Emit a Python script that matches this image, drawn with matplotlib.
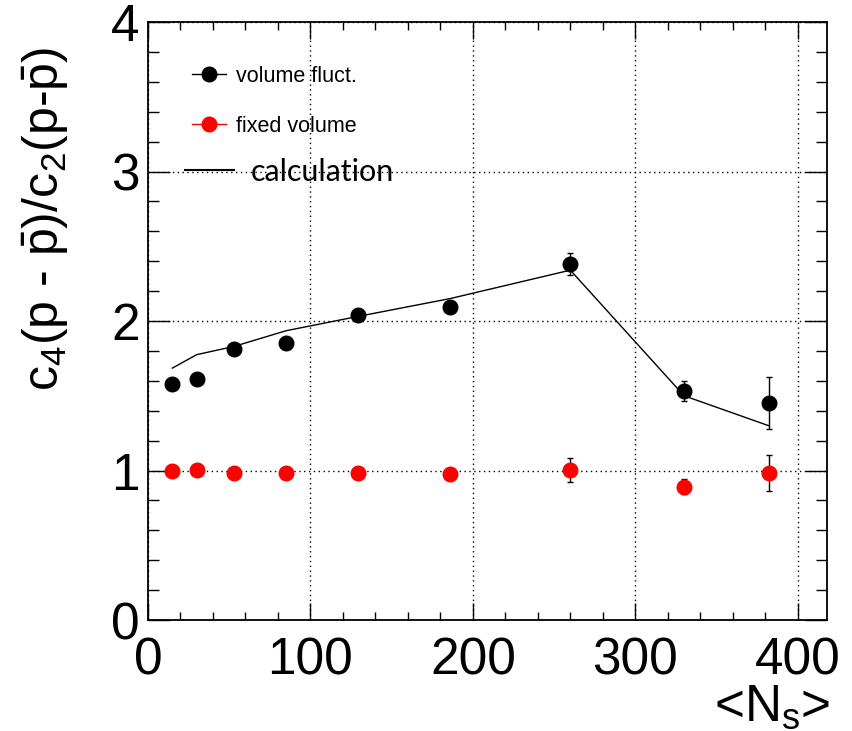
import matplotlib
matplotlib.use("Agg")
import matplotlib.pyplot as plt
from matplotlib.lines import Line2D
from matplotlib.ticker import MultipleLocator

plt.rcParams['font.family'] = ['Liberation Sans', 'DejaVu Sans']
plt.rcParams['mathtext.fontset'] = 'custom'
plt.rcParams['mathtext.rm'] = 'Liberation Sans'
plt.rcParams['mathtext.it'] = 'Liberation Sans'
plt.rcParams['mathtext.bf'] = 'Liberation Sans'

# data
ns = [15, 30, 53, 85, 129, 186, 260, 330, 382]
vol_fluct = [1.58, 1.615, 1.81, 1.85, 2.04, 2.095, 2.38, 1.535, 1.45]
vol_fluct_err = [0.015, 0.015, 0.015, 0.015, 0.02, 0.035, 0.075, 0.067, 0.175]
fixed_vol = [1.0, 1.003, 0.985, 0.985, 0.985, 0.978, 1.005, 0.89, 0.985]
fixed_vol_err = [0.01, 0.01, 0.01, 0.01, 0.01, 0.015, 0.08, 0.05, 0.12]
calc = [1.685, 1.775, 1.83, 1.935, 2.03, 2.15, 2.34, 1.50, 1.30]

fig = plt.figure(figsize=(8.52, 7.31), dpi=100)
ax = fig.add_axes([148/852, 111/731, 679/852, 598/731])

ax.plot(ns, calc, color='black', lw=1.0, zorder=2)
ax.errorbar(ns, vol_fluct, yerr=vol_fluct_err, fmt='o', color='black', ms=10.5,
            ecolor='black', elinewidth=1.0, capsize=2.5, capthick=1.0, zorder=3)
ax.errorbar(ns, fixed_vol, yerr=fixed_vol_err, fmt='o', color='red', ms=10.5,
            mec='red', ecolor='black', elinewidth=1.0, capsize=2.5, capthick=1.0, zorder=3)

ax.set_xlim(0, 418)
ax.set_ylim(0, 4)
ax.xaxis.set_major_locator(MultipleLocator(100))
ax.xaxis.set_minor_locator(MultipleLocator(20))
ax.yaxis.set_major_locator(MultipleLocator(1))
ax.yaxis.set_minor_locator(MultipleLocator(0.2))
ax.grid(True, which='major', color='black', linestyle=(0, (1, 2.5)), lw=1.0)

ax.tick_params(axis='both', which='both', direction='in', top=True, right=True, width=1.0)
ax.tick_params(axis='x', which='major', length=12, pad=12, labelsize=37)
ax.tick_params(axis='x', which='minor', length=6)
ax.tick_params(axis='y', which='major', length=16, pad=6, labelsize=37)
ax.tick_params(axis='y', which='minor', length=8)
for s in ax.spines.values():
    s.set_linewidth(1.3)

ax.set_ylabel(r'c$_4$(p - $\bar{\mathrm{p}}$)/c$_2$(p-$\bar{\mathrm{p}}$)', fontsize=36)
ax.yaxis.set_label_coords(-0.113, 0.67)
ax.set_xlabel(r'<N$_\mathrm{s}$>', fontsize=37, ha='right', va='top')
ax.xaxis.set_label_coords(1.005, -0.105)

h1 = Line2D([], [], color='black', marker='o', ms=10.5, lw=1.0)
h2 = Line2D([], [], color='red', marker='o', ms=10.5, mec='red', lw=1.0)
leg1 = ax.legend([h1, h2], ['volume fluct.', 'fixed volume'], loc='upper left',
                 bbox_to_anchor=(0.052, 0.941), frameon=False, fontsize=15.5,
                 handlelength=1.6, handletextpad=0.45, labelspacing=1.33,
                 borderaxespad=0)
ax.add_artist(leg1)
h3 = Line2D([], [], color='black', lw=1.5)
leg2 = ax.legend([h3], ['calculation'], loc='upper left',
                 bbox_to_anchor=(0.036, 0.793), frameon=False,
                 prop={'family': 'Lato', 'size': 22},
                 handlelength=1.6, handletextpad=0.55, borderaxespad=0)

fig.savefig('out.png', dpi=100)
